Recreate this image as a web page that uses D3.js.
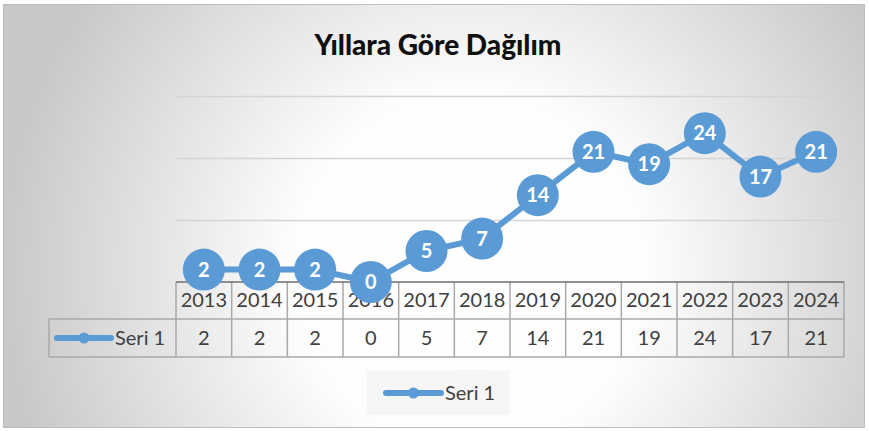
<!DOCTYPE html>
<html>
<head>
<meta charset="utf-8">
<script src="https://cdn.jsdelivr.net/npm/d3@7"></script>
<style>
  html, body { margin: 0; padding: 0; background: #fff; }
  svg { display: block; }
</style>
</head>
<body>
<div id="chart"></div>
<script>
// chart data
var years = ["2013", "2014", "2015", "2016", "2017", "2018", "2019", "2020", "2021", "2022", "2023", "2024"];
var values = [2, 2, 2, 0, 5, 7, 14, 21, 19, 24, 17, 21];
var seriesName = "Seri 1";
var gridTicks = [10, 20, 30];
var chartTitle = "Yıllara Göre Dağılım";

var w = 869, h = 431;
var blue = "#5b9bd5";
var font = "Lato, 'Open Sans', sans-serif";

var svg = d3.select("#chart").append("svg")
    .attr("width", w)
    .attr("height", h);

// radial background, white in the middle, grey towards the sides
var defs = svg.append("defs");
var grad = defs.append("radialGradient")
    .attr("id", "bg")
    .attr("gradientUnits", "userSpaceOnUse")
    .attr("cx", 470).attr("cy", 270).attr("r", 470);
grad.append("stop").attr("offset", "0%").attr("stop-color", "#ffffff");
grad.append("stop").attr("offset", "38%").attr("stop-color", "#fdfdfd");
grad.append("stop").attr("offset", "100%").attr("stop-color", "#c8c8c8");

svg.append("rect")
    .attr("x", 3.5).attr("y", 4.5)
    .attr("width", 861).attr("height", 423)
    .attr("fill", "url(#bg)")
    .attr("stroke", "#bdbdbd")
    .attr("stroke-width", 1);

// title
svg.append("text")
    .attr("x", 438).attr("y", 55)
    .attr("text-anchor", "middle")
    .style("font-family", font)
    .style("font-weight", "900")
    .style("font-size", "28px")
    .style("fill", "#111")
    .text(chartTitle);

// scales
var xScale = d3.scaleBand()
    .domain(years)
    .range([176, 844])
    .padding(0);

var yScale = d3.scaleLinear()
    .domain([0, 30])
    .range([282, 96]);

// gridlines
var grid = svg.append("g")
    .attr("transform", "translate(176,0)")
    .call(d3.axisLeft(yScale).tickValues(gridTicks).tickSize(-(844 - 176)).tickFormat(""));
grid.select(".domain").remove();
grid.selectAll("line").attr("stroke", "#d4d4d4").attr("stroke-width", 1.5);

// data table
var rowTop = 282, rowMid = 319, rowBot = 357, legendLeft = 49;
var table = svg.append("g");
var tableColor = "#a9a9a9";

table.append("line")
    .attr("x1", legendLeft).attr("x2", 844)
    .attr("y1", rowMid).attr("y2", rowMid)
    .attr("stroke", tableColor).attr("stroke-width", 1.5);
table.append("line")
    .attr("x1", legendLeft).attr("x2", 844)
    .attr("y1", rowBot).attr("y2", rowBot)
    .attr("stroke", tableColor).attr("stroke-width", 1.5);
table.append("line")
    .attr("x1", legendLeft).attr("x2", legendLeft)
    .attr("y1", rowMid).attr("y2", rowBot)
    .attr("stroke", tableColor).attr("stroke-width", 1.5);

var bounds = years.map(d => xScale(d)).concat([xScale.range()[1]]);
table.selectAll("line.col")
    .data(bounds)
    .enter().append("line")
    .attr("class", "col")
    .attr("x1", d => d).attr("x2", d => d)
    .attr("y1", rowTop).attr("y2", rowBot)
    .attr("stroke", tableColor).attr("stroke-width", 1.5);

// axis line (top of table)
table.append("line")
    .attr("x1", 176).attr("x2", 844)
    .attr("y1", rowTop).attr("y2", rowTop)
    .attr("stroke", "#6e6e6e").attr("stroke-width", 1.5);

table.selectAll("text.year")
    .data(years)
    .enter().append("text")
    .attr("class", "year")
    .attr("x", d => xScale(d) + xScale.bandwidth() / 2)
    .attr("y", 307)
    .attr("text-anchor", "middle")
    .style("font-family", font)
    .style("font-size", "20px")
    .style("fill", "#404040")
    .text(d => d);

table.selectAll("text.val")
    .data(values)
    .enter().append("text")
    .attr("class", "val")
    .attr("x", (d, i) => xScale(years[i]) + xScale.bandwidth() / 2)
    .attr("y", 345)
    .attr("text-anchor", "middle")
    .style("font-family", font)
    .style("font-size", "20px")
    .style("fill", "#404040")
    .text(d => d);

// legend key (line with a dot)
function legendKey(g, x1, x2, y) {
    g.append("line")
        .attr("x1", x1).attr("x2", x2)
        .attr("y1", y).attr("y2", y)
        .attr("stroke", blue).attr("stroke-width", 6)
        .attr("stroke-linecap", "round");
    g.append("circle")
        .attr("cx", (x1 + x2) / 2).attr("cy", y)
        .attr("r", 5.5)
        .attr("fill", blue);
}
legendKey(table, 57, 111, 338);
table.append("text")
    .attr("x", 115).attr("y", 345)
    .style("font-family", font)
    .style("font-size", "20px")
    .style("fill", "#404040")
    .text(seriesName);

// line + markers
var line = d3.line()
    .x((d, i) => xScale(years[i]) + xScale.bandwidth() / 2)
    .y(d => yScale(d));

svg.append("path")
    .datum(values)
    .attr("d", line)
    .attr("fill", "none")
    .attr("stroke", blue)
    .attr("stroke-width", 6)
    .attr("stroke-linejoin", "round");

var pts = svg.append("g").selectAll("g")
    .data(values)
    .enter().append("g")
    .attr("transform", (d, i) => `translate(${xScale(years[i]) + xScale.bandwidth() / 2},${yScale(d)})`);

pts.append("circle")
    .attr("r", 21)
    .attr("fill", blue);

pts.append("text")
    .attr("text-anchor", "middle")
    .attr("dy", "0.36em")
    .style("font-family", font)
    .style("font-weight", "bold")
    .style("font-size", "20px")
    .style("fill", "#fff")
    .text(d => d);

// bottom legend
var legend = svg.append("g");
legend.append("rect")
    .attr("x", 367).attr("y", 370)
    .attr("width", 143).attr("height", 45)
    .attr("fill", "#f6f6f6");
legendKey(legend, 386, 441, 393);
legend.append("text")
    .attr("x", 445).attr("y", 400)
    .style("font-family", font)
    .style("font-size", "20px")
    .style("fill", "#404040")
    .text(seriesName);
</script>
</body>
</html>
